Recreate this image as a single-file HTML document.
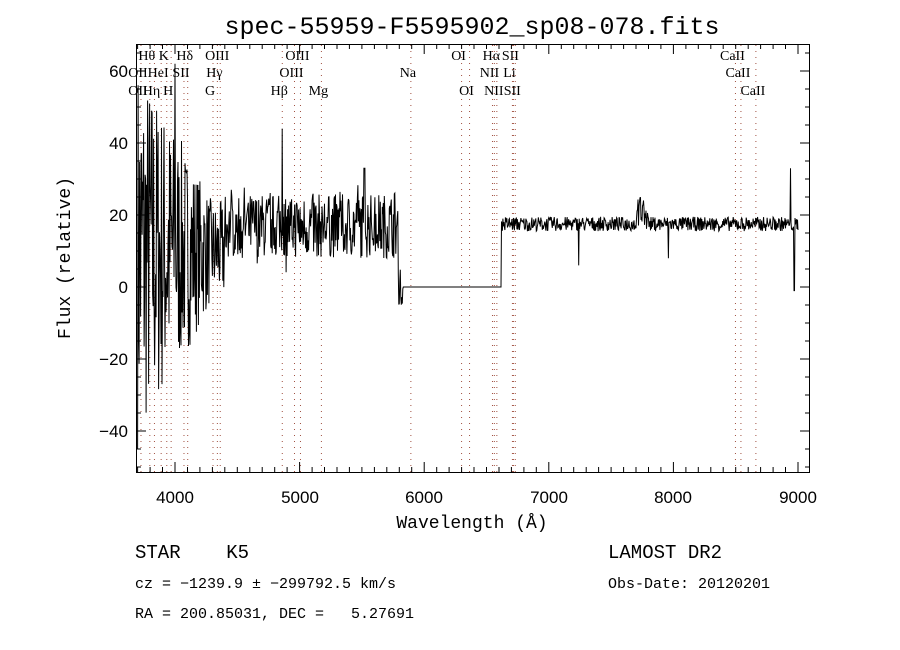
<!DOCTYPE html>
<html><head><meta charset="utf-8"><style>
body{margin:0;background:#fff;}
svg{display:block;font-family:"Liberation Serif",serif;}
text{white-space:pre;}
</style></head><body>
<svg id="c" width="900" height="650" xmlns="http://www.w3.org/2000/svg">
<rect width="900" height="650" fill="#fff"/>
<text x="472" y="34" font-size="25" text-anchor="middle" style="font-family:'Liberation Mono',monospace">spec-55959-F5595902_sp08-078.fits</text>
<g id="dots"></g>
<g id="ticks" stroke="#000" stroke-width="1"></g>
<polyline id="sp" fill="none" stroke="#000" stroke-width="1"/>
<rect x="136.5" y="44.5" width="673" height="428" fill="none" stroke="#000"/>
<g font-size="17" text-anchor="middle" style="font-family:'Liberation Sans',sans-serif" fill="#000">
<text x="175" y="503">4000</text><text x="300" y="503">5000</text><text x="424" y="503">6000</text>
<text x="549" y="503">7000</text><text x="673" y="503">8000</text><text x="798" y="503">9000</text>
</g>
<g font-size="17" text-anchor="end" style="font-family:'Liberation Sans',sans-serif">
<text x="128" y="77">60</text><text x="128" y="149">40</text><text x="128" y="221">20</text>
<text x="128" y="293">0</text><text x="128" y="365">−20</text><text x="128" y="437">−40</text>
</g>
<text x="472" y="528" font-size="18" text-anchor="middle" style="font-family:'Liberation Mono',monospace">Wavelength (Å)</text>
<text transform="translate(70,258) rotate(-90)" font-size="18" text-anchor="middle" style="font-family:'Liberation Mono',monospace">Flux (relative)</text>
<g font-size="14" id="lab"></g>
<g style="font-family:'Liberation Mono',monospace">
<text x="135" y="558" font-size="19">STAR    K5</text>
<text x="608" y="558" font-size="19">LAMOST DR2</text>
<text x="135" y="588" font-size="15">cz = −1239.9 ± −299792.5 km/s</text>
<text x="608" y="588" font-size="15">Obs-Date: 20120201</text>
<text x="135" y="618" font-size="15">RA = 200.85031, DEC =   5.27691</text>
</g>
</svg>
<script>
const X=w=>175+(w-4000)*0.1246, Y=f=>287-f*3.6;
let t=document.getElementById('ticks'),s='';
for(let w=3700;w<=9000;w+=100){const x=X(w).toFixed(1),L=w%1000?5:10;s+=`<line x1="${x}" y1="472" x2="${x}" y2="${472-L}"/><line x1="${x}" y1="44" x2="${x}" y2="${44+L}"/>`;}
for(let f=-50;f<=65;f+=5){const y=Y(f).toFixed(1),L=f%20?5:10;s+=`<line x1="136" y1="${y}" x2="${136+L}" y2="${y}"/><line x1="810" y1="${y}" x2="${810-L}" y2="${y}"/>`;}
t.innerHTML=s;
const lines=[3727,3798,3835,3889,3934,3969,4072,4102,4305,4340,4363,4861,4959,5007,5175,5893,6300,6364,6548,6563,6583,6708,6716,6731,8498,8542,8662];
document.getElementById('dots').innerHTML=lines.map(w=>`<line x1="${X(w)}" y1="45" x2="${X(w)}" y2="472" stroke="#a05040" stroke-width="1" stroke-dasharray="1,5"/>`).join('');
const labs=[["Hθ",3798,60],["K",3934,60],["Hδ",4102,60],["OIII",4363,60],["OIII",5007,60],["OI",6300,60],["Hα",6563,60],["SII",6716,60],["CaII",8498,60],
["OII",3727,77],["HeI",3889,77],["SII",4072,77],["Hγ",4340,77],["OIII",4959,77],["Na",5893,77],["NII",6548,77],["Li",6708,77],["CaII",8542,77],
["OII",3727,95],["Hη",3835,95],["H",3969,95],["G",4305,95],["Hβ",4861,95],["Mg",5175,95],["OI",6364,95],["NII",6583,95],["SII",6731,95],["CaII",8662,95]];
document.getElementById('lab').innerHTML=labs.map(a=>`<text x="${X(a[1])-3}" y="${a[2]}" text-anchor="middle">${a[0]}</text>`).join('');
let seed=7;const r=()=>{seed=(seed*16807)%2147483647;return seed/2147483647-0.5;};
let p=[];
for(let w=3700;w<=9000;w+=4){let f;
 if(w<4400){f=10+r()*110*Math.max(0.25,(1-(w-3700)/800));}
 else if(w<5790){f=17+r()*18+(r()>0.4?r()*14:0);if(Math.abs(w-4861)<3)f=44;if(Math.abs(w-5520)<5)f=33;}
 else if(w<6620){f=w<5830?r()*10:0;}
 else{f=17.5+r()*4+(r()>0.6?r()*6:0);if(w>7700&&w<7800)f+=4+r()*8;if(Math.abs(w-7240)<4)f=6;if(Math.abs(w-8970)<4)f=-1;if(Math.abs(w-8940)<4)f=33;if(Math.abs(w-7960)<4)f=8;}
 if(Math.abs(w-4000)<3)f=62;
 f=Math.max(-51,Math.min(67,f));
 p.push(X(w).toFixed(1)+","+Y(f).toFixed(1));}
document.getElementById('sp').setAttribute('points',p.join(' '));
</script>
</body></html>
